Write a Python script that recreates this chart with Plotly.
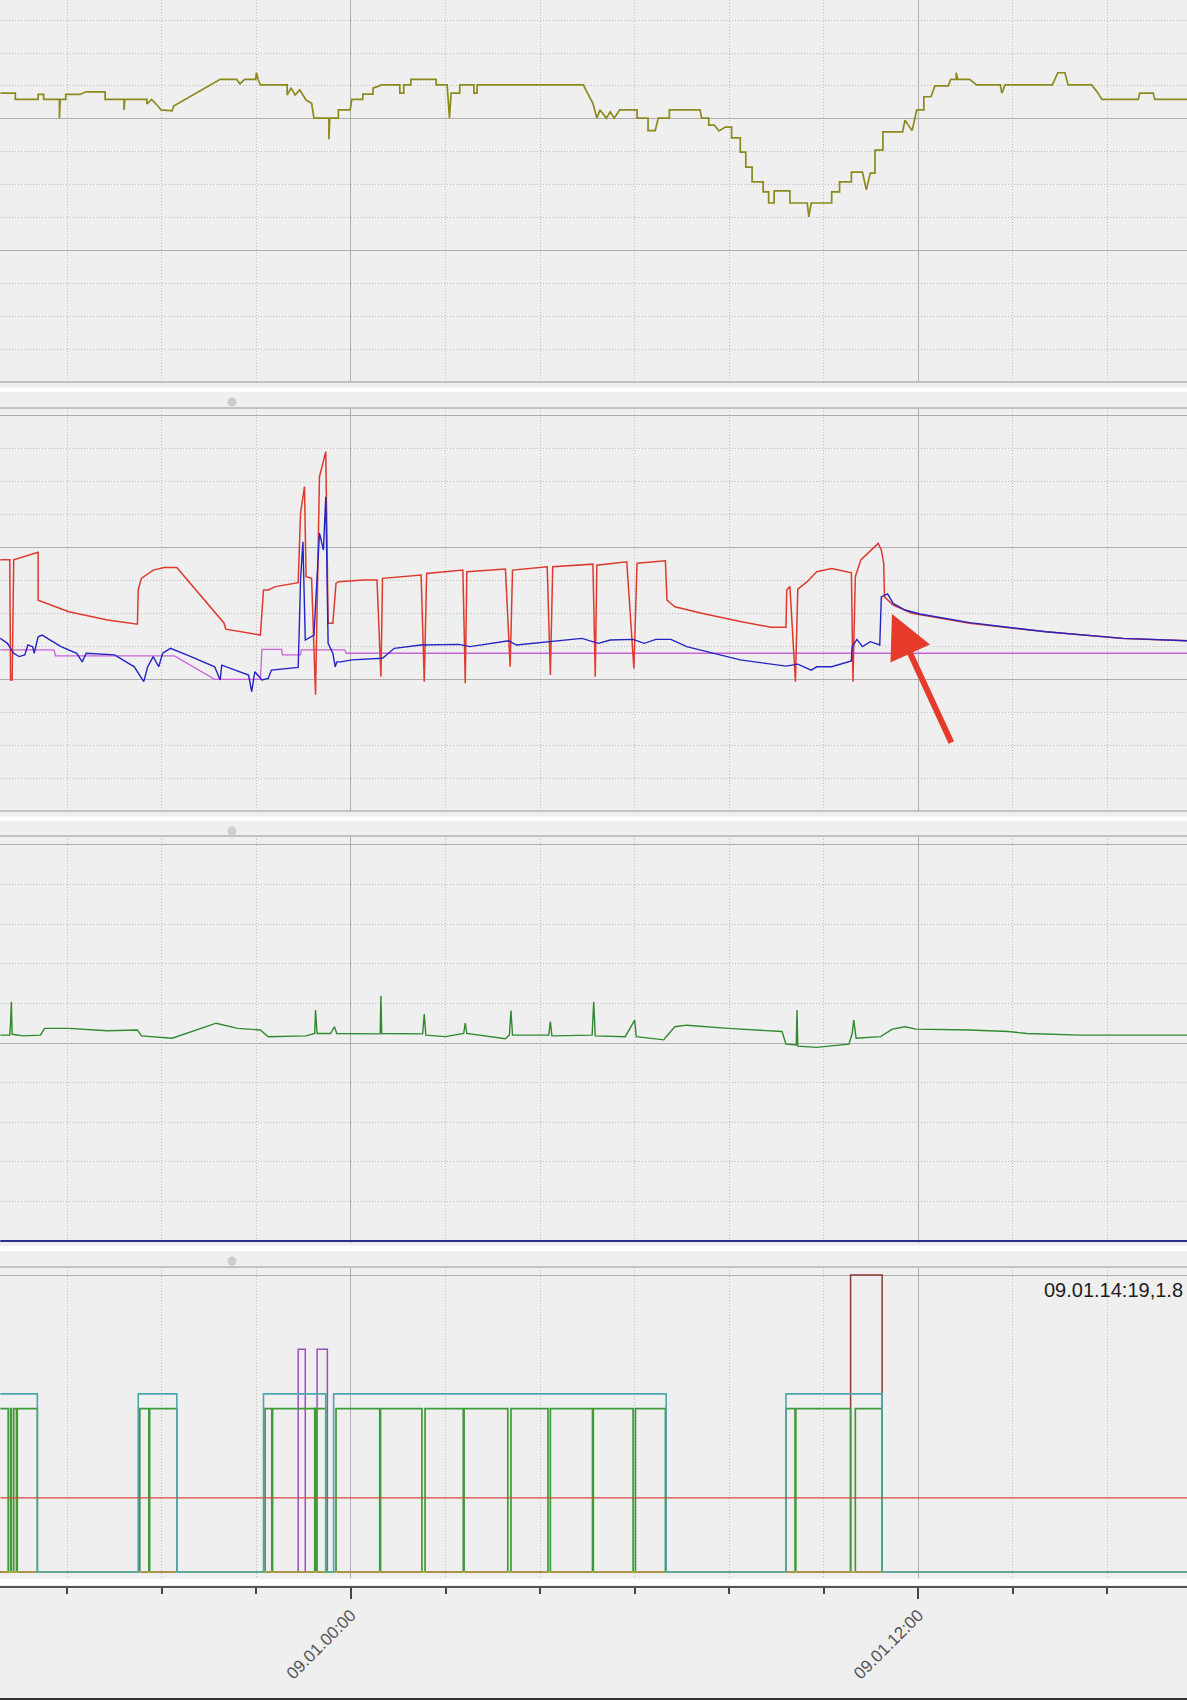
import plotly.graph_objects as go
import pandas as pd

# ---------------- data (minutes relative to 09.01 00:00, value) ----------------
BASE = pd.Timestamp("2024-01-09 00:00")
X_START_MIN = -445.4
X_END_MIN = 1060.9

# panel 1 : olive stepped signal
p1_olive = [(-445,8.78),(-426,8.78),(-426,8.59),(-397,8.59),(-397,8.74),(-390,8.74),(-390,8.59),(-370,8.59),(-370,8.02),(-369,8.59),
            (-362,8.59),(-362,8.74),(-344,8.74),(-336,8.82),(-312,8.82),(-312,8.59),(-288,8.59),(-288,8.27),(-287,8.59),(-259,8.59),
            (-259,8.45),(-253,8.59),(-245,8.39),(-241,8.27),(-227,8.24),(-225,8.39),(-166,9.2),(-145,9.2),(-141,9.06),(-135,9.2),
            (-121,9.2),(-120,9.4),(-118,9.2),(-115,9.03),(-81,9.03),(-81,8.72),(-76,8.94),(-71,8.72),(-65,8.88),(-57,8.57),
            (-50,8.47),(-47,8.02),(-28,8.02),(-28,7.38),(-27,8.02),(-16,8.02),(-16,8.27),(-1,8.27),(1,8.59),(15,8.59),
            (15,8.75),(28,8.75),(28,8.93),(39,9.03),(62,9.03),(62,8.78),(67,8.78),(67,9.03),(76,9.03),(76,9.2),
            (108,9.2),(108,9.03),(122,9.03),(125,8.02),(127,8.78),(138,8.78),(138,9.03),(156,9.03),(156,8.78),(160,8.78),
            (160,9.03),(181,9.03),(295,9.03),(298,8.88),(307,8.47),(312,8.02),(316,8.27),(324,8.02),(329,8.21),(334,8.02),
            (341,8.27),(363,8.27),(363,8.02),(377,8.02),(377,7.64),(386,7.64),(390,8.02),(404,8.02),(404,8.27),(443,8.27),
            (445,8.02),(454,8.02),(454,7.81),(461,7.81),(467,7.63),(475,7.75),(483,7.75),(483,7.42),(494,7.42),(494,6.99),
            (501,6.99),(501,6.53),(509,6.53),(509,6.08),(523,6.08),(523,5.78),(530,5.78),(530,5.44),(537,5.44),(537,5.81),
            (557,5.81),(557,5.44),(579,5.44),(581,5.02),(584,5.44),(610,5.44),(610,5.78),(620,5.78),(620,6.08),(635,6.08),
            (635,6.38),(649,6.38),(654,5.84),(659,6.35),(665,6.35),(665,7.05),(675,7.05),(675,7.6),(700,7.6),(703,7.96),
            (712,7.64),(718,8.27),(727,8.27),(727,8.67),(736,8.67),(741,9.0),(758,9.0),(761,9.2),(768,9.2),(768,9.4),
            (770,9.2),(785,9.2),(794,9.03),(824,9.03),(826,8.78),(830,9.03),(890,9.03),(897,9.4),(906,9.4),(910,9.03),
            (940,9.03),(948,8.78),(953,8.59),(999,8.59),(1001,8.78),(1018,8.78),(1020,8.59),(1061,8.59)]

# panel 2 : red, blue, magenta
p2_red = [(-445,7.61),(-433,7.61),(-432,3.97),(-430,3.97),(-428,7.61),(-397,7.84),(-397,6.39),(-358,6.04),(-309,5.79),(-271,5.66),
          (-270,6.70),(-266,7.05),(-251,7.30),(-237,7.38),(-221,7.38),(-161,5.69),(-159,5.51),(-115,5.33),(-111,6.70),(-105,6.70),
          (-96,6.80),(-67,6.92),(-64,9.03),(-59,9.83),(-57,7.10),(-50,7.05),(-45,3.52),(-42,7.05),(-40,10.13),(-32,10.89),
          (-29,5.69),(-23,5.69),(-19,6.90),(-16,6.95),(16,7.0),(33,7.0),(38,4.07),(40,7.05),(89,7.15),(93,3.92),
          (96,7.20),(142,7.30),(145,3.87),(147,7.25),(196,7.33),(202,4.37),(205,7.30),(249,7.40),(253,4.12),(256,7.40),
          (307,7.48),(310,4.07),(312,7.45),(350,7.55),(359,4.32),(363,7.51),(399,7.58),(401,6.39),(411,6.19),(445,5.99),
          (494,5.74),(533,5.57),(552,5.57),(553,6.70),(557,6.80),(564,3.92),(567,6.72),(579,6.95),(591,7.25),(610,7.35),
          (635,7.22),(637,3.92),(640,7.10),(647,7.61),(669,8.11),(673,7.91),(676,7.51),(677,6.49),(688,6.24),(712,5.99),
          (785,5.69),(882,5.43),(980,5.23),(1061,5.16)]
p2_blue = [(-445,5.23),(-436,5.08),(-428,4.78),(-421,4.68),(-414,4.73),(-410,5.03),(-404,4.98),(-402,4.78),(-397,5.28),(-392,5.33),
           (-368,4.98),(-348,4.78),(-341,4.52),(-336,4.78),(-300,4.73),(-275,4.37),(-263,3.92),(-258,4.37),(-251,4.68),(-244,4.37),
           (-239,4.78),(-229,4.93),(-203,4.68),(-173,4.37),(-166,3.97),(-164,4.42),(-130,4.12),(-126,3.62),(-122,4.22),(-113,3.97),
           (-105,4.02),(-101,4.27),(-67,4.35),(-64,7.0),(-61,8.16),(-58,5.18),(-47,5.33),(-43,7.15),(-40,8.42),(-35,7.91),
           (-32,9.52),(-29,5.08),(-23,4.78),(-20,4.37),(-18,4.52),(-13,4.52),(1,4.58),(40,4.63),(55,4.93),(89,5.03),
           (137,5.05),(151,4.98),(200,5.16),(210,5.03),(259,5.16),(293,5.23),(314,5.08),(329,5.18),(358,5.20),(372,5.08),
           (387,5.20),(406,5.20),(426,4.98),(494,4.58),(552,4.39),(567,4.45),(584,4.27),(591,4.37),(610,4.37),(635,4.55),
           (636,4.98),(639,5.08),(642,5.20),(649,4.98),(659,5.13),(671,5.03),(673,6.49),(681,6.58),(688,6.29),(703,6.09),
           (722,5.97),(785,5.71),(882,5.43),(980,5.23),(1061,5.16)]
p2_magenta = [(-445,4.88),(-377,4.88),(-375,4.70),(-224,4.70),(-173,3.99),(-115,3.99),(-113,4.90),(-88,4.90),(-87,4.73),(-64,4.73),
              (-63,4.88),(-8,4.88),(-6,4.78),(1061,4.78)]

# panel 3 : green + navy baseline
p3_green = [(-445,5.20),(-433,5.20),(-432,5.50),(-431,6.04),(-430,5.22),(-416,5.18),(-394,5.20),(-389,5.37),(-358,5.37),(-309,5.31),
            (-271,5.33),(-266,5.18),(-227,5.12),(-171,5.50),(-144,5.37),(-115,5.33),(-105,5.16),(-57,5.18),(-46,5.24),(-45,5.83),
            (-43,5.24),(-26,5.24),(-21,5.41),(-18,5.24),(37,5.23),(38,6.19),(39,5.24),(91,5.23),(93,5.73),(95,5.20),
            (120,5.16),(143,5.24),(145,5.50),(147,5.24),(196,5.11),(201,5.20),(203,5.82),(205,5.20),(251,5.20),(253,5.54),
            (255,5.18),(306,5.20),(308,6.04),(310,5.18),(348,5.16),(360,5.58),(362,5.16),(397,5.08),(400,5.16),(411,5.41),
            (426,5.45),(479,5.37),(547,5.29),(552,4.97),(565,4.95),(566,5.83),(567,4.92),(591,4.89),(632,4.97),(636,5.24),
            (638,5.58),(641,5.12),(672,5.16),(687,5.35),(703,5.41),(717,5.35),(785,5.33),(834,5.29),(858,5.24),(926,5.20),
            (1061,5.20)]
p3_navy = [(-445,0.0),(1061,0.0)]

# panel 4 : state signals (step after)
p4_cyan = [(-445,1.2),(-398,0),(-270,1.2),(-221,0),(-111,1.2),(-32,0),(-22,1.2),(400,0),(552,1.2),(674,0),(1061,0)]
p4_green = [(-445,1.1),(-435,0),(-432,1.1),(-431,0),(-428,1.1),(-424.5,0),(-423.5,1.1),(-398,0),(-268,1.1),(-256.5,0),
            (-255.5,1.1),(-221,0),(-109,1.1),(-100.5,0),(-99.5,1.1),(-46,0),(-44,1.1),(-32,0),(-19,1.1),(36.5,0),
            (37.5,1.1),(90,0),(94,1.1),(142.5,0),(143.5,1.1),(199,0),(203,1.1),(250,0),(253,1.1),(306.5,0),
            (307.5,1.1),(358,0),(361,1.1),(399,0),(552,1.1),(563.5,0),(564.5,1.1),(634,0),(640,1.1),(674,0),(1061,0)]
p4_purple = [(-445,0),(-67,1.5),(-58,0),(-43,1.5),(-30,0),(1061,0)]
p4_brown = [(-445,0),(634,2.0),(674,0),(1061,0)]
p4_dark = [(-445,0),(-45.5,1.1),(-44.5,0),(1061,0)]
p4_yellow = [(-445,0),(1061,0)]
p4_red = [(-445,0.5),(1061,0.5)]

hover_label = "09.01.14:19,1.8"

# ---------------- styling ----------------
W, H = 1187, 1700
BG = "#efefef"
MAJ = "#adadad"
MIN = "#bdbdbd"
FRAME = "#b3b3b3"
DOT = "1px,2px"


def times(series):
    return [BASE + pd.Timedelta(minutes=m) for m, _ in series]


def vals(series):
    return [v for _, v in series]


def py(px):
    return 1 - px / H


fig = go.Figure()


def add(series, color, width, xa, ya, shape="linear"):
    fig.add_trace(go.Scatter(x=times(series), y=vals(series), mode="lines",
                             line=dict(color=color, width=width, shape=shape),
                             xaxis=xa, yaxis=ya, hoverinfo="skip", showlegend=False))


add(p1_olive, "#8c8a1c", 1.7, "x", "y")
add(p2_magenta, "#c963d8", 1.3, "x2", "y2")
add(p2_red, "#de3a2e", 1.5, "x2", "y2")
add(p2_blue, "#2424c4", 1.4, "x2", "y2")
add(p3_green, "#2f8a2f", 1.4, "x3", "y3")
add(p3_navy, "#2d2d88", 2.2, "x3", "y3")
add(p4_brown, "#8e3b34", 1.5, "x4", "y4", "hv")
add(p4_purple, "#9a4fbf", 1.5, "x4", "y4", "hv")
add(p4_dark, "#3a3a3a", 1.8, "x4", "y4", "hv")
add(p4_green, "#3f9a3a", 1.7, "x4", "y4", "hv")
add(p4_yellow, "#c9b24e", 1.5, "x4", "y4")
add(p4_cyan, "#4da6ae", 1.6, "x4", "y4", "hv")
add(p4_red, "#d6493c", 1.2, "x4", "y4")
# dummy trace hosting the bottom time axis
fig.add_trace(go.Scatter(x=[BASE], y=[None], mode="lines", xaxis="x5", yaxis="y4",
                         hoverinfo="skip", showlegend=False))

xr = [(BASE + pd.Timedelta(minutes=X_START_MIN)).strftime("%Y-%m-%d %H:%M:%S"),
      (BASE + pd.Timedelta(minutes=X_END_MIN)).strftime("%Y-%m-%d %H:%M:%S")]
base_s = BASE.strftime("%Y-%m-%d %H:%M:%S")
H12 = 12 * 3600 * 1000
H2 = 2 * 3600 * 1000


def xaxis(anchor):
    return dict(type="date", range=xr, anchor=anchor, showticklabels=False, ticks="",
                showgrid=True, gridcolor=MAJ, gridwidth=1.2, tick0=base_s, dtick=H12,
                minor=dict(tick0=base_s, dtick=H2, showgrid=True, gridcolor=MIN,
                           griddash=DOT, gridwidth=1.3),
                zeroline=False, showline=False, fixedrange=True)


def yaxis(anchor, top_px, bot_px, rng, dtick, mdtick):
    d = dict(domain=[py(bot_px), py(top_px)], range=rng, anchor=anchor,
             showticklabels=False, ticks="", showgrid=True, gridcolor=MAJ,
             gridwidth=1.3, zeroline=False, showline=False, fixedrange=True)
    if dtick is None:
        d["tickvals"] = [2.0]
    else:
        d["tick0"] = 0
        d["dtick"] = dtick
        d["minor"] = dict(dtick=mdtick, showgrid=True, gridcolor=MIN, griddash=DOT, gridwidth=1.3)
    return d


layout = dict(
    width=W, height=H, margin=dict(l=0, r=0, t=0, b=0),
    paper_bgcolor=BG, plot_bgcolor=BG, showlegend=False,
    font=dict(family="Liberation Sans, Arial, sans-serif", color="#444"),
    xaxis=xaxis("y"), xaxis2=xaxis("y2"), xaxis3=xaxis("y3"), xaxis4=xaxis("y4"),
    yaxis=yaxis("x", 0, 382, [0, 11.611], 4, 1),
    yaxis2=yaxis("x2", 408, 811, [0, 12.212], 4, 1),
    yaxis3=yaxis("x3", 836, 1243, [-0.05, 10.227], 5, 1),
    yaxis4=yaxis("x4", 1267, 1578, [-0.04, 2.054], None, None),
    xaxis5=dict(type="date", range=xr, overlaying="x4", anchor="free", position=py(1587),
                side="bottom", showgrid=False, zeroline=False, showline=True,
                linecolor="#555", linewidth=1.5, ticks="outside", ticklen=11, tickwidth=1.5,
                tickcolor="#444", tick0=base_s, dtick=H12, tickformat="%d.%m.%H:%M",
                tickangle=-45, tickfont=dict(size=17, color="#555"),
                minor=dict(tick0=base_s, dtick=H2, ticks="outside", ticklen=6,
                           tickwidth=1.5, tickcolor="#444", showgrid=False),
                fixedrange=True),
)
fig.update_layout(**layout)

shapes = []
# white separator strips
for a, b in [(387.5, 392), (816.5, 821), (1246, 1251), (1579, 1585)]:
    shapes.append(dict(type="rect", xref="paper", yref="paper", x0=0, x1=1,
                       y0=py(b), y1=py(a), fillcolor="white", line=dict(width=0), layer="above"))
# frame lines
for p in [382, 408, 811, 836, 1267]:
    shapes.append(dict(type="line", xref="paper", yref="paper", x0=0, x1=1, y0=py(p), y1=py(p),
                       line=dict(color=FRAME, width=1.6), layer="above"))
# drag-handle dots
for p in [402, 831, 1261]:
    shapes.append(dict(type="circle", xref="paper", yref="paper",
                       x0=(232 - 4.5) / W, x1=(232 + 4.5) / W, y0=py(p + 4.5), y1=py(p - 4.5),
                       fillcolor="#cdcdcd", line=dict(width=0), layer="above"))
# dark bottom edge
shapes.append(dict(type="rect", xref="paper", yref="paper", x0=0, x1=1, y0=0, y1=py(1698),
                   fillcolor="#333", line=dict(width=0), layer="above"))
fig.update_layout(shapes=shapes)

fig.add_annotation(xref="paper", yref="paper", x=1185 / W, y=py(1290), xanchor="right",
                   yanchor="middle", text=hover_label, showarrow=False,
                   font=dict(size=20, color="#1e1e1e", family="Liberation Sans, Arial, sans-serif"))
# red arrow pointing at the blue curve
fig.add_annotation(xref="paper", yref="paper", x=892 / W, y=py(614), text="", showarrow=True,
                   ax=60, ay=130, arrowhead=2, arrowsize=1.45, arrowwidth=6, arrowcolor="#e63a2b")

fig.write_html("out.html", config={"displayModeBar": False},
               post_script="document.body.style.margin='0';document.body.style.overflow='hidden';")
